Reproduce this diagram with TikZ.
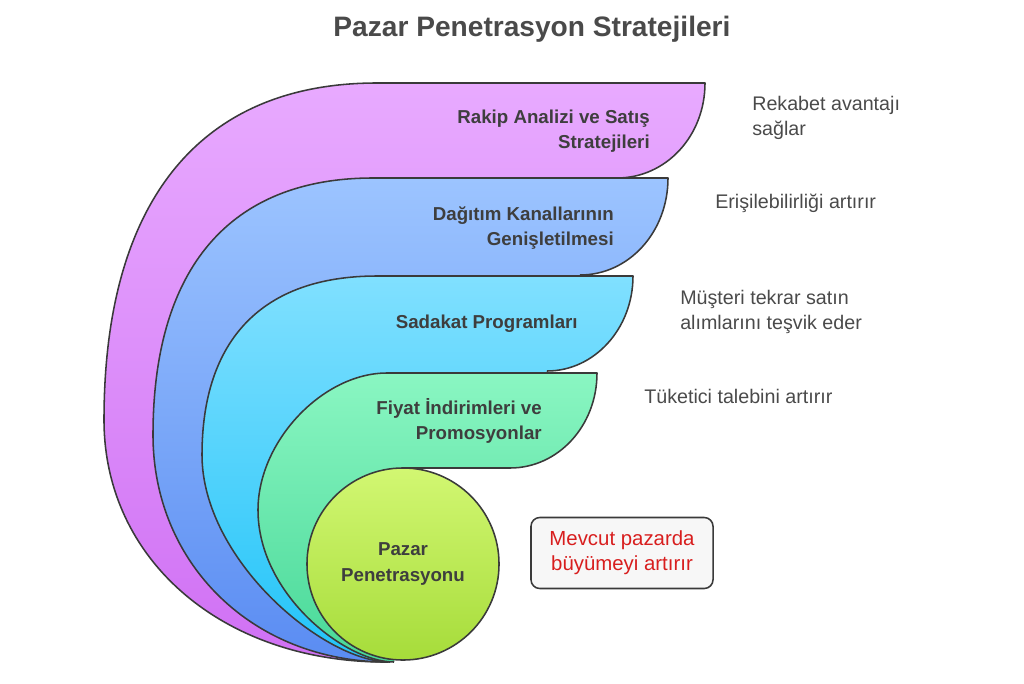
\documentclass[tikz,border=0pt]{standalone}
\usepackage{fontspec}
\setmainfont{Liberation Sans}
\definecolor{pT}{HTML}{E8AAFF}
\definecolor{pB}{HTML}{D070F4}
\definecolor{bT}{HTML}{9CC4FF}
\definecolor{bB}{HTML}{5A8CF2}
\definecolor{cT}{HTML}{80E0FF}
\definecolor{cB}{HTML}{22C4F8}
\definecolor{gT}{HTML}{8AF6C2}
\definecolor{gB}{HTML}{48D898}
\definecolor{oT}{HTML}{D2F772}
\definecolor{oB}{HTML}{A6DC3A}
\definecolor{strokegray}{HTML}{3A3A3A}
\definecolor{labelgray}{HTML}{3E3E3E}
\definecolor{descgray}{HTML}{4A4A4A}
\definecolor{redtext}{HTML}{D81E1E}
\definecolor{boxfill}{HTML}{F7F7F7}
\begin{document}
\begin{tikzpicture}[x=0.025cm,y=-0.025cm,
  edge/.style={draw=strokegray, line width=1.1pt, line join=round},
  lbl/.style={font=\bfseries\fontsize{13.3}{17.8}\selectfont, text=labelgray, align=right, anchor=east, inner sep=0pt},
  desc/.style={font=\fontsize{14}{17.8}\selectfont, text=descgray, align=left, anchor=west, inner sep=0pt}]
\useasboundingbox (0,0) rectangle (1024,683);

% title
\node[font=\bfseries\fontsize{20}{24}\selectfont, text=descgray, inner sep=0pt] (title) at (532,29) {Pazar Penetrasyon Stratejileri};

% purple layer
\fill[top color=pT, bottom color=pB] (385,662) .. controls (223,662) and (104,560) .. (104,420) .. controls (104,201) and (200,83) .. (377,83) -- (705,83) .. controls (705,136) and (666,178) .. (617,178) -- (403,470) -- (403,564) -- cycle;
\draw[edge] (385,662) .. controls (223,662) and (104,560) .. (104,420) .. controls (104,201) and (200,83) .. (377,83) -- (705,83) .. controls (705,136) and (666,178) .. (617,178);

% blue layer
\fill[top color=bT, bottom color=bB] (388,662) .. controls (253,662) and (153,564) .. (153,435) .. controls (153,268) and (230,178) .. (373,178) -- (668,178) .. controls (668,232) and (629,275) .. (580,275) -- (403,470) -- (403,564) -- cycle;
\draw[edge] (388,662) .. controls (253,662) and (153,564) .. (153,435) .. controls (153,268) and (230,178) .. (373,178) -- (668,178) .. controls (668,232) and (629,275) .. (580,275);

% cyan layer
\fill[top color=cT, bottom color=cB] (390,662) .. controls (323,662) and (202,559) .. (202,455) .. controls (202,339) and (263,276) .. (377,276) -- (633,276) .. controls (633,329) and (594,371) .. (547,371) -- (403,470) -- (403,564) -- cycle;
\draw[edge] (390,662) .. controls (323,662) and (202,559) .. (202,455) .. controls (202,339) and (263,276) .. (377,276) -- (633,276) .. controls (633,329) and (594,371) .. (547,371);

% green layer
\fill[top color=gT, bottom color=gB] (394,662) .. controls (345,662) and (258,594) .. (258,510) .. controls (258,441) and (323,373) .. (387,373) -- (597,373) .. controls (597,426) and (558,468) .. (510,468) -- (403,468) -- (403,564) -- cycle;
\draw[edge] (394,662) .. controls (345,662) and (258,594) .. (258,510) .. controls (258,441) and (323,373) .. (387,373) -- (597,373) .. controls (597,426) and (558,468) .. (510,468) -- (403,468);

% core circle
\node[circle, edge, minimum size=4.8cm, inner sep=0pt, top color=oT, bottom color=oB,
  font=\bfseries\fontsize{13.3}{17.8}\selectfont, text=labelgray, align=center] (core) at (403,564) {Pazar\\Penetrasyonu};

% layer labels
\node[lbl] (l1) at (650,131) {Rakip Analizi ve Satış\\Stratejileri};
\node[lbl] (l2) at (614,228) {Dağıtım Kanallarının\\Genişletilmesi};
\node[lbl] (l3) at (578,324) {Sadakat Programları};
\node[lbl] (l4) at (542,421) {Fiyat İndirimleri ve\\Promosyonlar};

% descriptions
\node[desc] (d1) at (752,118) {Rekabet avantajı\\sağlar};
\node[desc] (d2) at (715,203) {Erişilebilirliği artırır};
\node[desc] (d3) at (680,312) {Müşteri tekrar satın\\alımlarını teşvik eder};
\node[desc] (d4) at (644,396) {Tüketici talebini artırır};

% highlighted box
\node[draw=strokegray, line width=1.1pt, fill=boxfill, rounded corners=0.22cm,
  minimum width=4.55cm, minimum height=1.775cm, inner sep=0pt,
  font=\fontsize{14.5}{17.8}\selectfont, text=redtext, align=center] (box) at (622,553) {Mevcut pazarda\\büyümeyi artırır};
\end{tikzpicture}
\end{document}
